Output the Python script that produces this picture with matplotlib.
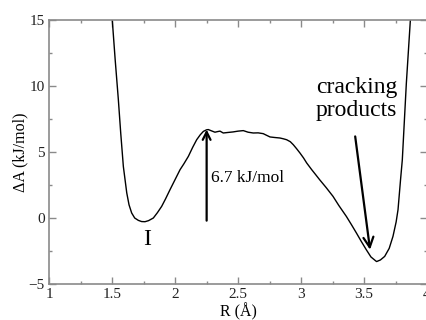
import matplotlib.pyplot as plt
from matplotlib.ticker import MultipleLocator

plt.rcParams["font.family"] = ["Liberation Serif", "DejaVu Serif"]

# free energy profile along the reaction coordinate
r_vals = [1.49, 1.502, 1.525, 1.550, 1.569, 1.590, 1.617, 1.635, 1.656, 1.680,
          1.709, 1.735, 1.762, 1.790, 1.828, 1.860, 1.894, 1.925, 1.960, 2.000,
          2.040, 2.070, 2.106, 2.140, 2.172, 2.200, 2.225, 2.250, 2.264, 2.290,
          2.317, 2.340, 2.357, 2.383, 2.420, 2.460, 2.500, 2.542, 2.580, 2.621,
          2.660, 2.700, 2.730, 2.754, 2.790, 2.833, 2.860, 2.886, 2.915, 2.939,
          2.965, 2.992, 3.020, 3.045, 3.085, 3.115, 3.148, 3.200, 3.254, 3.300,
          3.360, 3.400, 3.440, 3.480, 3.518, 3.555, 3.593, 3.600, 3.630, 3.664,
          3.700, 3.730, 3.755, 3.770, 3.790, 3.804, 3.836, 3.868, 3.88]
dA_vals = [16.5, 15.0, 12.0, 9.0, 6.45, 3.9, 1.9, 1.0, 0.38, 0.0,
           -0.18, -0.27, -0.28, -0.2, 0.0, 0.4, 0.88, 1.45, 2.14, 2.9,
           3.66, 4.1, 4.67, 5.35, 5.93, 6.3, 6.56, 6.68, 6.70, 6.6,
           6.5, 6.55, 6.58, 6.44, 6.48, 6.52, 6.58, 6.62, 6.5, 6.44,
           6.45, 6.39, 6.25, 6.14, 6.1, 6.06, 6.0, 5.93, 5.78, 5.55,
           5.25, 4.92, 4.55, 4.17, 3.66, 3.3, 2.90, 2.3, 1.64, 0.95,
           0.12, -0.5, -1.14, -1.8, -2.40, -2.95, -3.25, -3.30, -3.18, -2.91,
           -2.3, -1.39, -0.3, 0.63, 2.9, 4.4, 10.2, 15.0, 17.0]

barrier_r = 2.251
barrier_low = -0.2
barrier_high = 6.7
barrier_label = "6.7 kJ/mol"

fig = plt.figure(figsize=(4.27, 3.2), dpi=100)
ax = fig.add_axes([0.1148, 0.1125, 0.8852, 0.825])

ax.plot(r_vals, dA_vals, color="black", linewidth=1.0)

# barrier height arrow
ax.annotate("", xy=(barrier_r, barrier_high), xytext=(barrier_r, barrier_low),
            arrowprops=dict(arrowstyle="->", color="black", lw=1.6,
                            mutation_scale=14, shrinkA=0, shrinkB=0))
ax.text(2.285, 3.05, barrier_label, fontsize=12.5, va="center", ha="left")

# products arrow and label
ax.annotate("", xy=(3.548, -2.4), xytext=(3.43, 6.18),
            arrowprops=dict(arrowstyle="->", color="black", lw=1.6,
                            mutation_scale=18, shrinkA=0, shrinkB=0))
ax.text(3.44, 9.0, "cracking\nproducts", fontsize=17, ha="center", va="center",
        linespacing=1.15)

ax.text(1.776, -1.65, "I", fontsize=17, ha="center", va="center")

ax.set_xlim(1, 4)
ax.set_ylim(-5, 15)
ax.xaxis.set_major_locator(MultipleLocator(0.5))
ax.xaxis.set_minor_locator(MultipleLocator(0.25))
ax.yaxis.set_major_locator(MultipleLocator(5))
ax.yaxis.set_minor_locator(MultipleLocator(2.5))
ax.xaxis.set_major_formatter(plt.FuncFormatter(lambda v, p: f"{v:g}"))

for s in ax.spines.values():
    s.set_color("#8a8a8a")
    s.set_linewidth(1.2)
ax.tick_params(which="both", direction="in", top=True, right=True,
               color="#8a8a8a", labelsize=11, labelcolor="#222222", width=1.0)
ax.tick_params(which="major", length=5, pad=3)
ax.tick_params(which="minor", length=2.5)

ax.set_xlabel("R (Å)", fontsize=11.5, labelpad=1)
ax.set_ylabel("ΔA (kJ/mol)", fontsize=11.5, labelpad=0)

fig.savefig("out.png", dpi=100)
